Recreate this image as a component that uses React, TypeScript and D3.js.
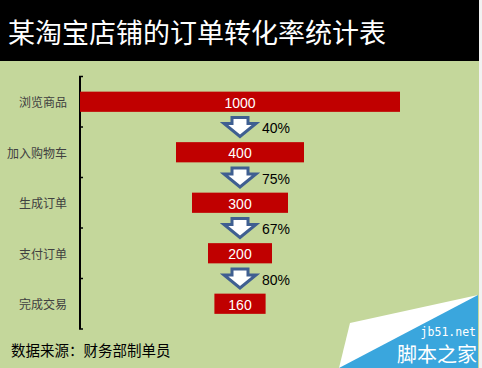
import { scaleBand, scaleLinear } from 'd3';
import { useMemo } from 'react';

const WIDTH = 482;
const HEIGHT = 368;

const stages = ['浏览商品', '加入购物车', '生成订单', '支付订单', '完成交易'];
const counts = [1000, 400, 300, 200, 160];
const rates = ['40%', '75%', '67%', '80%'];

const TITLE = '某淘宝店铺的订单转化率统计表';
const SOURCE = '数据来源：财务部制单员';

const CJK = '"Microsoft YaHei", "Noto Sans CJK SC", sans-serif';
const LATIN = 'Arial, "Liberation Sans", sans-serif';

const AXIS_X = 80;
const PLOT_RIGHT = 400;

function App() {
  const x = useMemo(
    () => scaleLinear().domain([0, 1000]).range([AXIS_X, PLOT_RIGHT]),
    [],
  );
  const y = useMemo(
    () =>
      scaleBand<string>()
        .domain(stages)
        .range([76.5, 329])
        .paddingInner(0.6)
        .paddingOuter(0.3),
    [],
  );

  const step = y.step();
  const bandTop = (s: string) => (y(s) as number) - step * 0.3;
  const tickYs = [...stages.map(bandTop), bandTop(stages[stages.length - 1]) + step];
  const mid = (x(0) + x(1000)) / 2;

  // funnel: each bar is centred by an invisible offset of (max - v) / 2
  const bars = counts.map((v, i) => {
    const offset = (1000 - v) / 2;
    return {
      stage: stages[i],
      value: v,
      x0: x(offset),
      x1: x(offset + v),
      y0: y(stages[i]) as number,
    };
  });

  const arrows = rates.map((r, i) => {
    const cy = ((y(stages[i]) as number) + (y(stages[i + 1]) as number)) / 2 + y.bandwidth() / 2;
    return { rate: r, cy };
  });

  const arrowPath = (cx: number, cy: number) => {
    const sw = 8;
    const hw = 16;
    const top = cy - 9.5;
    const neck = cy - 3.5;
    const tip = cy + 9.5;
    return `M${cx - sw},${top}H${cx + sw}V${neck}H${cx + hw}L${cx},${tip}L${cx - hw},${neck}H${cx - sw}Z`;
  };

  return (
    <div style={{ position: 'absolute', left: 0, top: 0 }}>
      <svg width={WIDTH} height={HEIGHT} style={{ display: 'block' }}>
        <rect width={WIDTH} height={HEIGHT} fill="#c4d79b" />
        <rect width={479} height={61} fill="#000" />
        <rect x={479} width={3} height={HEIGHT} fill="#f2f2f2" />
        <text
          x={8}
          y={31}
          dominantBaseline="central"
          fill="#fff"
          style={{ fontFamily: CJK, fontSize: 27 }}
        >
          {TITLE}
        </text>

        {/* category axis */}
        <line x1={AXIS_X} x2={AXIS_X} y1={tickYs[0]} y2={tickYs[tickYs.length - 1]} stroke="#000" strokeWidth={2} />
        {tickYs.map((t, i) => (
          <line key={i} x1={AXIS_X - 1} x2={AXIS_X + 3} y1={t} y2={t} stroke="#000" strokeWidth={1.5} />
        ))}
        {stages.map(s => (
          <text
            key={s}
            x={67}
            y={(y(s) as number) + y.bandwidth() / 2}
            textAnchor="end"
            dominantBaseline="central"
            fill="#404040"
            style={{ fontFamily: CJK, fontSize: 12 }}
          >
            {s}
          </text>
        ))}

        {bars.map(b => (
          <g key={b.stage}>
            <rect x={b.x0} y={b.y0} width={b.x1 - b.x0} height={y.bandwidth()} fill="#c00000" />
            <text
              x={(b.x0 + b.x1) / 2}
              y={b.y0 + y.bandwidth() / 2 + 1}
              textAnchor="middle"
              dominantBaseline="central"
              fill="#fff"
              style={{ fontFamily: LATIN, fontSize: 14 }}
            >
              {b.value}
            </text>
          </g>
        ))}

        {arrows.map(a => (
          <g key={a.rate}>
            <path d={arrowPath(mid, a.cy)} fill="#fff" stroke="#3f5f91" strokeWidth={3} strokeLinejoin="miter" />
            <text
              x={262}
              y={a.cy + 1}
              dominantBaseline="central"
              fill="#000"
              style={{ fontFamily: LATIN, fontSize: 14 }}
            >
              {a.rate}
            </text>
          </g>
        ))}

        <text
          x={11}
          y={349}
          dominantBaseline="central"
          fill="#000"
          style={{ fontFamily: CJK, fontSize: 14.5 }}
        >
          {SOURCE}
        </text>

        {/* watermark */}
        <polygon points="350,323 478,295 478,368 339,368" fill="#fff" />
        <polygon points="339,368 478,295 478,368" fill="#3aa6dd" />
        <text x={476} y={332} textAnchor="end" dominantBaseline="central" fill="#fff" style={{ fontFamily: '"DejaVu Sans Mono", monospace', fontSize: 11.5 }}>
          jb51.net
        </text>
        <text x={477} y={353} textAnchor="end" dominantBaseline="central" fill="#fff" style={{ fontFamily: CJK, fontSize: 20 }}>
          脚本之家
        </text>
      </svg>
    </div>
  );
}

export default App;
